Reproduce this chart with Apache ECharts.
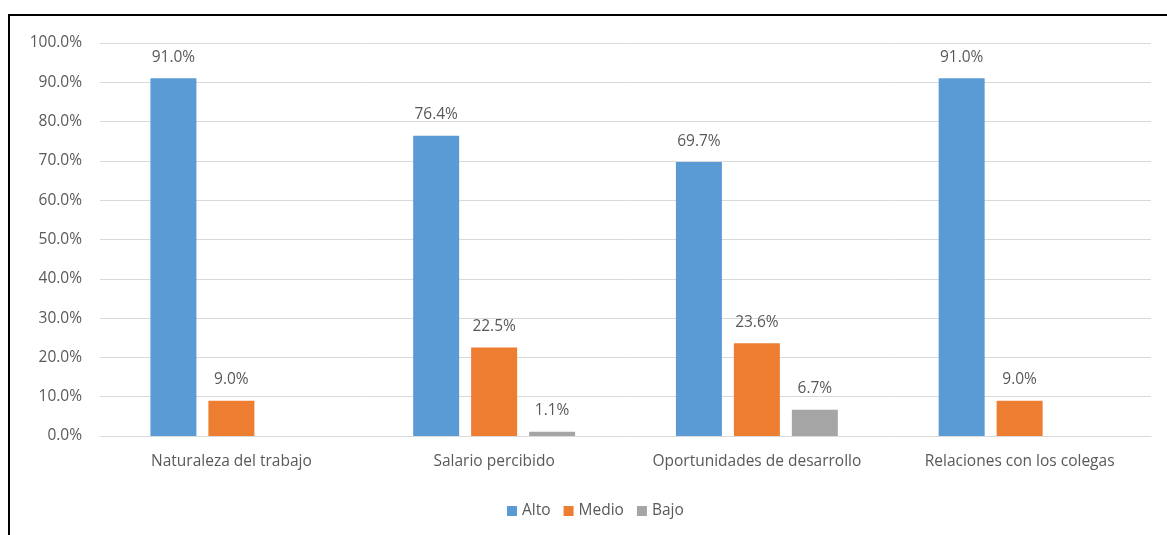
<!DOCTYPE html>
<html>
<head>
<meta charset="utf-8">
<script src="https://cdn.jsdelivr.net/npm/echarts@6/dist/echarts.min.js"></script>
<style>
  html, body { margin: 0; padding: 0; background: #fff; }
  #chart { width: 1167px; height: 535px; }
</style>
</head>
<body>
<div id="chart"></div>
<script>
// Satisfaction dimensions and the share of each level
const categories = ['Naturaleza del trabajo', 'Salario percibido', 'Oportunidades de desarrollo', 'Relaciones con los colegas'];
const alto  = [91.0, 76.4, 69.7, 91.0];
const medio = [9.0, 22.5, 23.6, 9.0];
const bajo  = [null, 1.1, 6.7, null];
const seriesNames = ['Alto', 'Medio', 'Bajo'];
const seriesColors = ['#5B9BD5', '#ED7D31', '#A5A5A5'];

const FONT = 'Open Sans';
const TEXT = '#595959';
const SIZE = 15.5;

const chart = echarts.init(document.getElementById('chart'), null, { renderer: 'canvas' });

function barSeries(name, data, color) {
  return {
    name: name,
    type: 'bar',
    data: data,
    barWidth: 46,
    barGap: '26%',
    itemStyle: { color: color },
    label: {
      show: true,
      position: 'top',
      distance: 13,
      color: TEXT,
      fontFamily: FONT,
      fontSize: SIZE,
      formatter: p => p.value == null ? '' : p.value.toFixed(1) + '%'
    }
  };
}

chart.setOption({
  animation: false,
  backgroundColor: '#ffffff',
  textStyle: { fontFamily: FONT },
  graphic: [
    // frame around the chart area (left and top edges)
    { type: 'line', shape: { x1: 9, y1: 14, x2: 9, y2: 535 }, style: { stroke: '#000', lineWidth: 2 } },
    { type: 'line', shape: { x1: 8, y1: 15, x2: 1167, y2: 15 }, style: { stroke: '#000', lineWidth: 2 } }
  ],
  grid: { left: 100, right: 16, top: 43, bottom: 99, containLabel: false },
  legend: {
    top: 498,
    left: 502,
    itemWidth: 10,
    itemHeight: 10,
    itemGap: 13,
    icon: 'rect',
    textStyle: { color: TEXT, fontFamily: FONT, fontSize: SIZE },
    data: seriesNames
  },
  xAxis: {
    type: 'category',
    data: categories,
    axisLine: { lineStyle: { color: '#D9D9D9', width: 1 } },
    axisTick: { show: false },
    axisLabel: { color: TEXT, fontFamily: FONT, fontSize: SIZE, margin: 18, interval: 0 }
  },
  yAxis: {
    type: 'value',
    min: 0,
    max: 100,
    interval: 10,
    axisLine: { show: false },
    axisTick: { show: false },
    splitLine: { lineStyle: { color: '#D9D9D9', width: 1 } },
    axisLabel: {
      color: TEXT, fontFamily: FONT, fontSize: SIZE, margin: 18,
      formatter: v => v.toFixed(1) + '%'
    }
  },
  series: [
    barSeries(seriesNames[0], alto, seriesColors[0]),
    barSeries(seriesNames[1], medio, seriesColors[1]),
    barSeries(seriesNames[2], bajo, seriesColors[2])
  ]
});
</script>
</body>
</html>
